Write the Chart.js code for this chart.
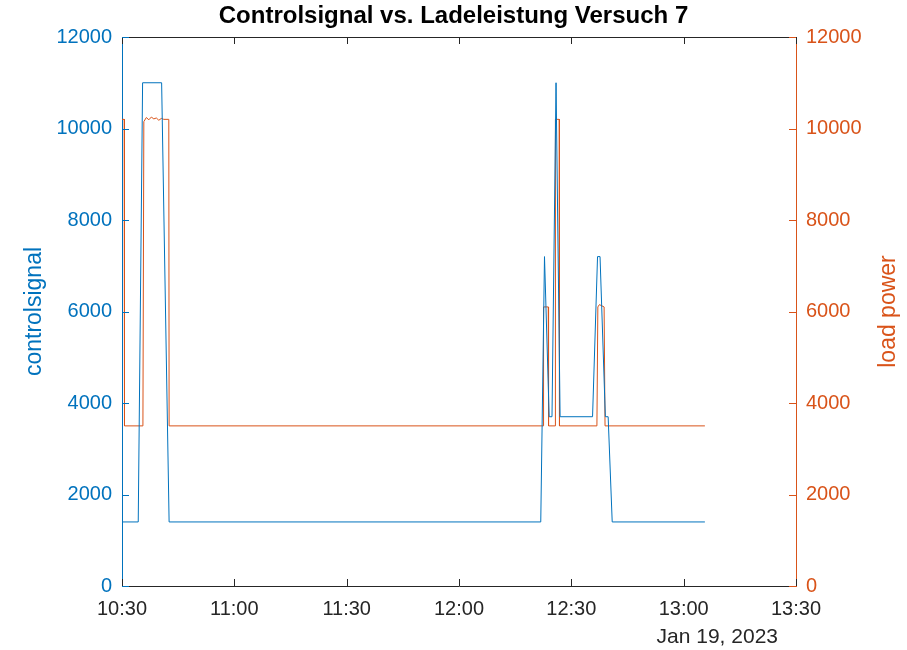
<!DOCTYPE html>
<html>
<head>
<meta charset="utf-8">
<script src="https://cdn.jsdelivr.net/npm/chart.js@4/dist/chart.umd.min.js"></script>
<style>
  html, body { margin: 0; padding: 0; background: #fff; }
  #wrap { width: 907px; height: 650px; }
</style>
</head>
<body>
<div id="wrap"><canvas id="chart"></canvas></div>
<script>
// x axis is minutes since midnight, Jan 19 2023
const xTickLabels = ['10:30', '11:00', '11:30', '12:00', '12:30', '13:00', '13:30'];
const yTicks = [0, 2000, 4000, 6000, 8000, 10000, 12000];
const dateLabel = 'Jan 19, 2023';

const controlTimes = ['10:30:00', '10:34:20', '10:35:30', '10:40:35', '10:42:35', '12:21:50', '12:22:50', '12:24:05',
  '12:24:50', '12:25:55', '12:27:00', '12:35:40', '12:37:00', '12:37:40', '12:39:05', '12:39:50', '12:40:55', '13:05:40'];
const controlValues = [1400, 1400, 11000, 11000, 1400, 1400, 7200, 3700,
  3700, 11000, 3700, 3700, 7200, 7200, 3700, 3700, 1400, 1400];

const powerTimes = ['10:30:00', '10:30:35', '10:30:40', '10:35:35', '10:35:50', '10:36:30', '10:37:10',
  '10:37:50', '10:38:30', '10:39:10', '10:39:50', '10:40:30', '10:41:10', '10:42:30', '10:42:35',
  '12:22:30', '12:22:35', '12:23:50', '12:23:55', '12:25:40', '12:25:45',
  '12:26:45', '12:26:50', '12:36:50', '12:37:05', '12:37:30', '12:38:45', '12:39:00', '13:05:40'];
const powerValues = [10200, 10200, 3500, 3500, 10150, 10240, 10190, 10250, 10210, 10230, 10180, 10220, 10200,
  10200, 3500, 3500, 6100, 6100, 3500, 3500, 10200, 10200, 3500, 3500, 6100, 6150, 6100,
  3500, 3500];

const blue = '#0072BD';
const orange = '#D95319';
const dark = '#262626';
const fontFam = '"Liberation Sans", Arial, sans-serif';

function toMin(t) {
  const p = t.split(':').map(Number);
  return p[0] * 60 + p[1] + (p[2] || 0) / 60;
}
function pts(times, vals) {
  return times.map((t, i) => ({ x: toMin(t), y: vals[i] }));
}
const xTickVals = xTickLabels.map(toMin);

// MATLAB-style box with inward ticks, right label and date
const framePlugin = {
  id: 'frame',
  afterDraw(chart) {
    const { ctx, chartArea: a, scales } = chart;
    const len = 7;
    ctx.save();
    ctx.lineWidth = 1;
    ctx.strokeStyle = dark;
    ctx.beginPath();
    ctx.moveTo(a.left, a.top + 0.5);
    ctx.lineTo(a.right, a.top + 0.5);
    xTickVals.forEach(v => {
      const x = Math.round(scales.x.getPixelForValue(v)) + 0.5;
      ctx.moveTo(x, a.bottom);
      ctx.lineTo(x, a.bottom - len);
      ctx.moveTo(x, a.top);
      ctx.lineTo(x, a.top + len);
    });
    ctx.stroke();
    ctx.strokeStyle = blue;
    ctx.beginPath();
    yTicks.forEach(v => {
      const y = Math.round(scales.y.getPixelForValue(v)) + 0.5;
      ctx.moveTo(a.left, y);
      ctx.lineTo(a.left + len, y);
    });
    ctx.stroke();
    ctx.strokeStyle = orange;
    ctx.beginPath();
    yTicks.forEach(v => {
      const y = Math.round(scales.y1.getPixelForValue(v)) + 0.5;
      ctx.moveTo(a.right, y);
      ctx.lineTo(a.right - len, y);
    });
    ctx.stroke();

    ctx.fillStyle = dark;
    ctx.font = '21px ' + fontFam;
    ctx.textAlign = 'right';
    ctx.textBaseline = 'middle';
    ctx.fillText(dateLabel, 778, 637);

    ctx.translate(895, (a.top + a.bottom) / 2);
    ctx.rotate(-Math.PI / 2);
    ctx.fillStyle = orange;
    ctx.font = '23px ' + fontFam;
    ctx.textAlign = 'center';
    ctx.textBaseline = 'alphabetic';
    ctx.fillText('load power', 0, 0);
    ctx.restore();
  }
};

new Chart(document.getElementById('chart'), {
  type: 'line',
  data: {
    datasets: [{
      label: 'controlsignal',
      data: pts(controlTimes, controlValues),
      borderColor: blue,
      backgroundColor: blue,
      borderWidth: 1,
      pointRadius: 0,
      yAxisID: 'y'
    }, {
      label: 'load power',
      data: pts(powerTimes, powerValues),
      borderColor: orange,
      backgroundColor: orange,
      borderWidth: 1,
      pointRadius: 0,
      yAxisID: 'y1'
    }]
  },
  options: {
    responsive: true,
    maintainAspectRatio: false,
    animation: false,
    layout: { padding: 0 },
    plugins: {
      legend: { display: false },
      tooltip: { enabled: false },
      title: {
        display: true,
        text: 'Controlsignal vs. Ladeleistung Versuch 7',
        color: '#000',
        font: { family: fontFam, size: 24, weight: 'bold' },
        padding: { top: 2, bottom: 6.2 }
      }
    },
    scales: {
      x: {
        type: 'linear',
        min: xTickVals[0],
        max: xTickVals[xTickVals.length - 1],
        afterBuildTicks: s => { s.ticks = xTickVals.map(v => ({ value: v })); },
        afterFit: s => { s.height = 64; },
        grid: { display: false, drawTicks: false },
        border: { display: true, color: dark, width: 1 },
        ticks: {
          color: dark,
          padding: 11,
          maxRotation: 0,
          font: { family: fontFam, size: 20 },
          callback: (v) => xTickLabels[xTickVals.indexOf(v)]
        }
      },
      y: {
        position: 'left',
        min: 0,
        max: 12000,
        afterBuildTicks: s => { s.ticks = yTicks.map(v => ({ value: v })); },
        afterFit: s => { s.width = 122; },
        grid: { display: false, drawTicks: false },
        border: { display: true, color: blue, width: 1 },
        ticks: {
          color: blue,
          padding: 10,
          font: { family: fontFam, size: 20 },
          callback: (v) => String(v)
        },
        title: {
          display: true,
          text: 'controlsignal',
          color: blue,
          padding: { top: 21, bottom: 0 },
          font: { family: fontFam, size: 23 }
        }
      },
      y1: {
        position: 'right',
        min: 0,
        max: 12000,
        afterBuildTicks: s => { s.ticks = yTicks.map(v => ({ value: v })); },
        afterFit: s => { s.width = 111; },
        grid: { display: false, drawTicks: false },
        border: { display: true, color: orange, width: 1 },
        ticks: {
          color: orange,
          padding: 10,
          font: { family: fontFam, size: 20 },
          callback: (v) => String(v)
        }
      }
    }
  },
  plugins: [framePlugin]
});
</script>
</body>
</html>
